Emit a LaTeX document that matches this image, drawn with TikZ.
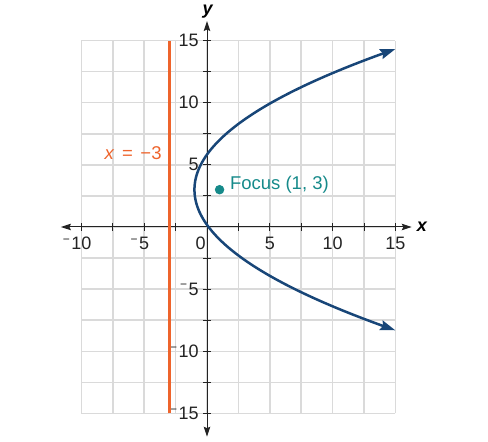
\documentclass[tikz,border=0pt]{standalone}
\usepackage{fontspec}
\setmainfont{Liberation Sans}
\usetikzlibrary{arrows.meta}
\definecolor{gridgray}{RGB}{218,218,218}
\definecolor{axisgray}{RGB}{35,35,35}
\definecolor{dirorange}{RGB}{238,100,44}
\definecolor{parblue}{RGB}{24,70,120}
\definecolor{focteal}{RGB}{22,138,138}
\newcommand{\nm}{\llap{\raisebox{0.35em}{\fontsize{12}{12}\selectfont −}\kern1.5pt}}
\tikzset{
  gridline/.style={draw=gridgray, line width=1.5pt},
  axisline/.style={draw=axisgray, line width=1pt, {Stealth[length=10pt,width=6.5pt,inset=1.5pt]}-{Stealth[length=10pt,width=6.5pt,inset=1.5pt]}},
  tickline/.style={draw=axisgray, line width=1pt},
  ticklabel/.style={inner sep=0pt, font=\fontsize{18}{20}\selectfont, text=axisgray},
  axislabel/.style={inner sep=0pt, font=\fontsize{18}{20}\selectfont\bfseries\itshape, text=black},
  directrix/.style={draw=dirorange, line width=2.8pt},
  parabola/.style={draw=parblue, line width=2.5pt, {Stealth[length=15pt,width=10pt,inset=2pt]}-{Stealth[length=15pt,width=10pt,inset=2pt]}},
  focusdot/.style={circle, fill=focteal, inner sep=0pt, minimum size=9.5pt},
}
\begin{document}
\begin{tikzpicture}[x=12.56pt, y=12.43pt]
\useasboundingbox (-16.48,-17.22) rectangle (22.37,18.26);
% grid
\foreach \gx in {-10,-7.5,-5,-2.5,0,2.5,5,7.5,10,12.5,15} \draw[gridline] (\gx,-15) -- (\gx,15);
\foreach \gy in {-15,-12.5,-10,-7.5,-5,-2.5,0,2.5,5,7.5,10,12.5,15} \draw[gridline] (-10,\gy) -- (15,\gy);
% axes
\coordinate (xl) at (-11.63,0);
\coordinate (xr) at (16.3,0);
\coordinate (yb) at (0,-16.87);
\coordinate (yt) at (0,16.57);
\draw[axisline] (xl) -- (xr);
\draw[axisline] (yb) -- (yt);
\foreach \tx in {-10,-7.5,-5,-2.5,2.5,5,7.5,10,12.5,15} \draw[tickline] (\tx,0) ++(0,-4pt) -- ++(0,8pt);
\foreach \ty in {-15,-12.5,-10,-7.5,-5,-2.5,2.5,5,7.5,10,12.5,15} \draw[tickline] (0,\ty) ++(-4pt,0) -- ++(8pt,0);
\node[axislabel] (xlab) at (17.1,0) {x};
\node[axislabel] (ylab) at (0.05,17.35) {y};
% x tick labels
\node[ticklabel, anchor=north] (xm10) at (-10,-0.8) {\nm10};
\node[ticklabel, anchor=north] (xm5) at (-5,-0.8) {\nm5};
\node[ticklabel, anchor=north east] (x0) at (-0.1,-0.75) {0};
\node[ticklabel, anchor=north] (x5) at (5,-0.8) {5};
\node[ticklabel, anchor=north] (x10) at (10,-0.8) {10};
\node[ticklabel, anchor=north] (x15) at (15,-0.8) {15};
% y tick labels
\node[ticklabel, anchor=east] (y15) at (-0.65,15) {15};
\node[ticklabel, anchor=east] (y10) at (-0.65,10) {10};
\node[ticklabel, anchor=east] (y5) at (-0.65,5) {5};
\node[ticklabel, anchor=east] (ym5) at (-0.65,-5) {\nm5};
\node[ticklabel, anchor=east] (ym10) at (-0.65,-10) {\nm10};
\node[ticklabel, anchor=east] (ym15) at (-0.65,-15) {\nm15};
% directrix
\coordinate (dtop) at (-3,15);
\coordinate (dbot) at (-3,-15);
\draw[directrix] (dbot) -- (dtop);
\node[inner sep=0pt, anchor=east, text=dirorange, font=\fontsize{18.5}{20}\selectfont] (dirlab) at (-3.6,5.95) {\textit{x}\kern2.5pt{} = \kern2.5pt−3};
% parabola
\draw[parabola] plot[domain=-8.31:14.31, samples=120, smooth, variable=\t] ({(\t-3)*(\t-3)/8-1},{\t});
% focus
\node[focusdot] (focus) at (1,3) {};
\node[inner sep=0pt, anchor=west, text=focteal, font=\fontsize{18.5}{20}\selectfont] (foclab) at (1.82,3.4) {Focus (1, 3)};
\end{tikzpicture}
\end{document}
